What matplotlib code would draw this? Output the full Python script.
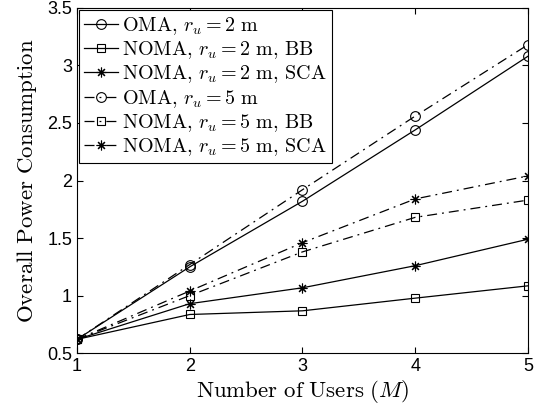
import numpy as np
import matplotlib
matplotlib.use('Agg')
import matplotlib.pyplot as plt

plt.rcParams['mathtext.fontset'] = 'cm'
plt.rcParams['font.family'] = 'Liberation Sans'

users = [1, 2, 3, 4, 5]
oma_2 = [0.62, 1.25, 1.82, 2.44, 3.08]
noma_bb_2 = [0.62, 0.836, 0.868, 0.978, 1.085]
noma_sca_2 = [0.62, 0.93, 1.068, 1.26, 1.49]
oma_5 = [0.62, 1.27, 1.92, 2.56, 3.18]
noma_bb_5 = [0.62, 1.0, 1.38, 1.68, 1.83]
noma_sca_5 = [0.62, 1.04, 1.46, 1.84, 2.04]

labels = [r'$\mathrm{OMA},\,r_u=2\ \mathrm{m}$',
          r'$\mathrm{NOMA},\,r_u=2\ \mathrm{m},\,\mathrm{BB}$',
          r'$\mathrm{NOMA},\,r_u=2\ \mathrm{m},\,\mathrm{SCA}$',
          r'$\mathrm{OMA},\,r_u=5\ \mathrm{m}$',
          r'$\mathrm{NOMA},\,r_u=5\ \mathrm{m},\,\mathrm{BB}$',
          r'$\mathrm{NOMA},\,r_u=5\ \mathrm{m},\,\mathrm{SCA}$']

star = (8, 2, 0)
fig = plt.figure(figsize=(5.46, 4.15), dpi=100)
ax = fig.add_axes([0.141, 0.149, 0.826, 0.832])

series = [oma_2, noma_bb_2, noma_sca_2, oma_5, noma_bb_5, noma_sca_5]
solid = [True, True, True, False, False, False]
markers = ['o', 's', star, 'o', 's', star]
msizes = [7, 5.5, 7, 7, 5.5, 7]
for y, sol, m, ms, lab in zip(series, solid, markers, msizes, labels):
    ln, = ax.plot(users, y, color='k', marker=m, markersize=ms, mfc='none',
                  mec='k', mew=0.8, lw=0.9, label=lab)
    if not sol:
        ln.set_dashes((8, 4, 1.5, 4))

ax.set_xlim(1, 5)
ax.set_ylim(0.5, 3.5)
ax.set_xticks([1, 2, 3, 4, 5])
ax.set_yticks([0.5, 1, 1.5, 2, 2.5, 3, 3.5])
ax.set_yticklabels(['0.5', '1', '1.5', '2', '2.5', '3', '3.5'])
ax.tick_params(direction='in', top=True, right=True, labelsize=13, length=4)
ax.set_xlabel(r'$\mathrm{Number\ of\ Users}\ (M)$', fontsize=16.5, labelpad=2)
ax.set_ylabel(r'$\mathrm{Overall\ Power\ Consumption}$', fontsize=16.5, labelpad=6)

leg = ax.legend(loc='upper left', fontsize=14.5, fancybox=False, framealpha=1,
                edgecolor='k', borderaxespad=0.1, handlelength=1.7,
                handletextpad=0.2, labelspacing=0.12, borderpad=0.25)
leg.get_frame().set_linewidth(0.8)

plt.savefig('out.png', dpi=100)
